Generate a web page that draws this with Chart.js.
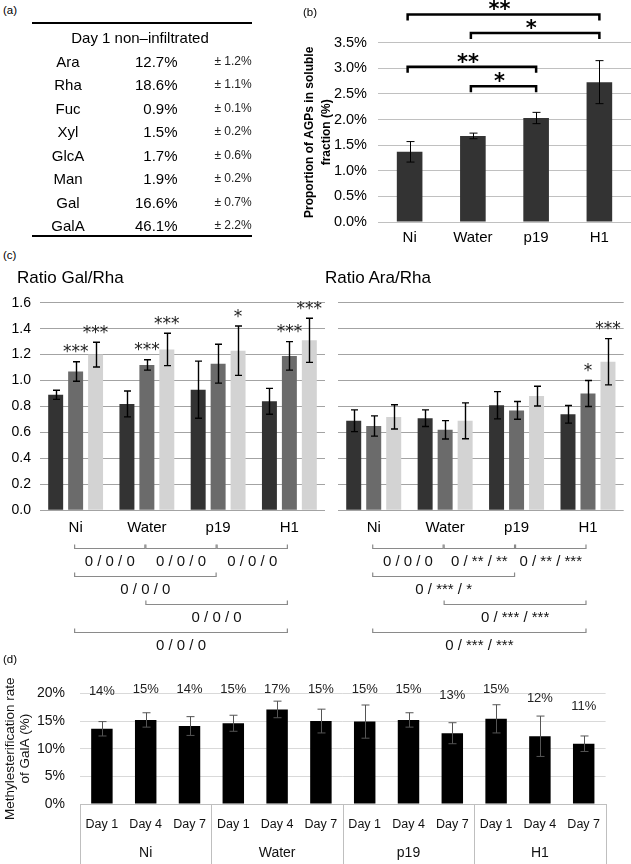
<!DOCTYPE html>
<html><head><meta charset="utf-8">
<script src="https://cdn.jsdelivr.net/npm/chart.js@4.4.1/dist/chart.umd.min.js"></script>
<style>
html,body{margin:0;padding:0;background:#fff}
body{width:631px;height:864px;position:relative;overflow:hidden;font-family:"Liberation Sans",Arial,sans-serif;color:#000}
.t{position:absolute;white-space:nowrap;line-height:1}
.rule{position:absolute;background:#000}
canvas{position:absolute}
</style></head><body>
<canvas id="chartB" width="331" height="250" style="left:300px;top:0px"></canvas>
<canvas id="chartGal" width="330" height="375" style="left:0px;top:285px"></canvas>
<canvas id="chartAra" width="301" height="375" style="left:330px;top:285px"></canvas>
<canvas id="chartD" width="631" height="194" style="left:0px;top:670px"></canvas>
<script>
// ---------- DATA ----------
// (a) table
const tableTitle = 'Day 1 non\u2013infiltrated';
const sugars = ['Ara','Rha','Fuc','Xyl','GlcA','Man','Gal','GalA'];
const sugarMean = [12.7,18.6,0.9,1.5,1.7,1.9,16.6,46.1];
const sugarSD = [1.2,1.1,0.1,0.2,0.6,0.2,0.7,2.2];

// (b) AGPs
const bCategories = ['Ni','Water','p19','H1'];
const bValues = [1.37,1.68,2.03,2.73];
const bErrors = [0.20,0.055,0.11,0.42];
const bAxisTitle = ['Proportion of AGPs in soluble','fraction (%)'];
const bComparisons = [
  {from:0,to:3,level:4.05,label:'**'},
  {from:1,to:3,level:3.69,label:'*'},
  {from:0,to:2,level:3.03,label:'**'},
  {from:1,to:2,level:2.65,label:'*'}
];

// (c) ratios
const cCategories = ['Ni','Water','p19','H1'];
const dayNames = ['Day 1','Day 4','Day 7'];
const galRhaDay1 = [0.89,0.82,0.93,0.84];
const galRhaDay1Err = [0.035,0.10,0.22,0.10];
const galRhaDay4 = [1.07,1.12,1.13,1.19];
const galRhaDay4Err = [0.075,0.04,0.15,0.11];
const galRhaDay7 = [1.20,1.24,1.23,1.31];
const galRhaDay7Err = [0.095,0.125,0.19,0.17];
const galRhaStars4 = ['***','***','','***'];
const galRhaStars7 = ['***','***','*','***'];
const araRhaDay1 = [0.69,0.71,0.81,0.74];
const araRhaDay1Err = [0.084,0.064,0.105,0.068];
const araRhaDay4 = [0.65,0.62,0.77,0.90];
const araRhaDay4Err = [0.078,0.071,0.068,0.10];
const araRhaDay7 = [0.72,0.69,0.88,1.145];
const araRhaDay7Err = [0.093,0.138,0.076,0.178];
const araRhaStars4 = ['','','','*'];
const araRhaStars7 = ['','','','***'];
const galRhaComparisons = [
  {from:0,to:1,row:0,label:'0 / 0 / 0'},
  {from:1,to:2,row:0,label:'0 / 0 / 0'},
  {from:2,to:3,row:0,label:'0 / 0 / 0'},
  {from:0,to:2,row:1,label:'0 / 0 / 0'},
  {from:1,to:3,row:2,label:'0 / 0 / 0'},
  {from:0,to:3,row:3,label:'0 / 0 / 0'}
];
const araRhaComparisons = [
  {from:0,to:1,row:0,label:'0 / 0 / 0'},
  {from:1,to:2,row:0,label:'0 / ** / **'},
  {from:2,to:3,row:0,label:'0 / ** / ***'},
  {from:0,to:2,row:1,label:'0 / *** / *'},
  {from:1,to:3,row:2,label:'0 / *** / ***'},
  {from:0,to:3,row:3,label:'0 / *** / ***'}
];

// (d) methylesterification
const dGroups = ['Ni','Water','p19','H1'];
const dDays = ['Day 1','Day 4','Day 7'];
const dValues = [13.6,15.2,14.1, 14.6,17.1,15.0, 14.9,15.2,12.8, 15.4,12.25,10.9];
const dErrors = [1.3,1.3,1.7, 1.45,1.5,2.15, 3.0,1.3,1.9, 2.55,3.65,1.4];
const dAxisTitle = ['Methylesterification rate','of GalA (%)'];

// ---------- HTML TEXT ----------
const FONT = '"Liberation Sans", Arial, sans-serif';
function put(text, x, y, align, font, color){
  const d = document.createElement('div');
  d.className = 't';
  d.textContent = text;
  d.style.font = font + ' ' + FONT;
  d.style.lineHeight = '1';
  d.style.left = x + 'px';
  d.style.top = y + 'px';
  const tx = align === 'center' ? '-50%' : (align === 'right' ? '-100%' : '0');
  d.style.transform = 'translate(' + tx + ',-50%)';
  if (color) d.style.color = color;
  document.body.appendChild(d);
}
function rule(x, y, w, h){
  const d = document.createElement('div');
  d.className = 'rule';
  d.style.left = x + 'px'; d.style.top = y + 'px';
  d.style.width = w + 'px'; d.style.height = h + 'px';
  document.body.appendChild(d);
}
put('(a)', 3, 11, 'left', '11.5px');
put('(b)', 303, 12.5, 'left', '11.5px');
put('(c)', 3, 256, 'left', '11.5px');
put('(d)', 3, 660, 'left', '11.5px');
put('Ratio Gal/Rha', 17, 277, 'left', '17px');
put('Ratio Ara/Rha', 325, 277, 'left', '17px');
rule(32, 22, 220, 2);
put(tableTitle, 140, 37, 'center', '15px');
sugars.forEach((s, i) => {
  const y = 60.7 + i * 23.48;
  put(s, 68, y, 'center', '15px');
  put(sugarMean[i].toFixed(1) + '%', 177.5, y, 'right', '15px');
  put('\u00b1 ' + sugarSD[i].toFixed(1) + '%', 251.7, y, 'right', '12px', '#222');
});
rule(32, 234.5, 220, 2);

// ---------- PLUGINS ----------
Chart.defaults.font.family = FONT;
Chart.defaults.color = '#000';

const errorBars = {
  id: 'errorBars',
  afterDatasetsDraw(chart, args, o){
    const ctx = chart.ctx, ys = chart.scales.y;
    chart.data.datasets.forEach((ds, di) => {
      if (!ds.errors) return;
      chart.getDatasetMeta(di).data.forEach((bar, i) => {
        const v = ds.data[i], e = ds.errors[i];
        const x = Math.round(bar.x) + 0.5;
        const y1 = ys.getPixelForValue(v + e), y2 = ys.getPixelForValue(v - e);
        ctx.save();
        ctx.strokeStyle = o.color; ctx.lineWidth = o.width;
        ctx.beginPath();
        ctx.moveTo(x, y1); ctx.lineTo(x, y2);
        ctx.moveTo(x - o.cap, y1); ctx.lineTo(x + o.cap, y1);
        ctx.moveTo(x - o.cap, y2); ctx.lineTo(x + o.cap, y2);
        ctx.stroke();
        ctx.restore();
      });
    });
  }
};

function starText(ctx, text, x, cy, size, color, weight){
  ctx.font = (weight || 'normal') + ' ' + size + 'px "DejaVu Sans"';
  ctx.fillStyle = color || '#000';
  ctx.textAlign = 'center';
  ctx.textBaseline = 'alphabetic';
  ctx.fillText(text, x, cy + size * 0.56);
}

const barStars = {
  id: 'barStars',
  afterDatasetsDraw(chart, args, o){
    const ctx = chart.ctx, ys = chart.scales.y;
    chart.data.datasets.forEach((ds, di) => {
      if (!ds.stars) return;
      chart.getDatasetMeta(di).data.forEach((bar, i) => {
        const s = ds.stars[i];
        if (!s) return;
        const top = ys.getPixelForValue(ds.data[i] + ds.errors[i]);
        ctx.save();
        starText(ctx, s, bar.x, top - o.lift, o.size, '#222');
        ctx.restore();
      });
    });
  }
};

const sigAbove = {
  id: 'sigAbove',
  afterDraw(chart, args, o){
    const ctx = chart.ctx, xs = chart.scales.x, ys = chart.scales.y;
    o.items.forEach(it => {
      const x1 = xs.getPixelForValue(it.from) - 2, x2 = xs.getPixelForValue(it.to);
      const y = ys.getPixelForValue(it.level);
      ctx.save();
      ctx.strokeStyle = '#000'; ctx.lineWidth = o.lineWidth;
      ctx.beginPath();
      ctx.moveTo(x1, y + o.tick); ctx.lineTo(x1, y); ctx.lineTo(x2, y); ctx.lineTo(x2, y + o.tick);
      ctx.stroke();
      starText(ctx, it.label, (x1 + x2) / 2 - 4, y - o.gap, o.size, '#000', 'bold');
      ctx.restore();
    });
  }
};

const sigBelow = {
  id: 'sigBelow',
  afterDraw(chart, args, o){
    const ctx = chart.ctx, xs = chart.scales.x, base = chart.chartArea.bottom;
    o.items.forEach(it => {
      const x1 = xs.getPixelForValue(it.from) - 1, x2 = xs.getPixelForValue(it.to) - 2;
      const y = Math.round(base + o.first + it.row * o.rowGap) + 0.5;
      ctx.save();
      ctx.strokeStyle = '#8a8a8a'; ctx.lineWidth = 1.2;
      ctx.beginPath();
      ctx.moveTo(x1, y - o.tick); ctx.lineTo(x1, y); ctx.lineTo(x2, y); ctx.lineTo(x2, y - o.tick);
      ctx.stroke();
      ctx.font = o.size + 'px ' + FONT;
      ctx.fillStyle = '#111';
      ctx.textAlign = 'center'; ctx.textBaseline = 'middle';
      ctx.fillText(it.label, (x1 + x2) / 2, y + o.labelGap);
      ctx.restore();
    });
  }
};

const groupAxis = {
  id: 'groupAxis',
  afterDraw(chart, args, o){
    const ctx = chart.ctx, xs = chart.scales.x, base = chart.chartArea.bottom;
    const half = (xs.getPixelForValue(1) - xs.getPixelForValue(0)) / 2;
    const n = o.groups.length, per = o.per;
    ctx.save();
    ctx.strokeStyle = o.lineColor; ctx.lineWidth = 1;
    ctx.beginPath();
    for (let g = 0; g <= n; g++){
      const x = Math.round(xs.getPixelForValue(g * per) - half) + 0.5;
      ctx.moveTo(x, base); ctx.lineTo(x, chart.height);
    }
    ctx.stroke();
    ctx.font = o.size + 'px ' + FONT;
    ctx.fillStyle = '#111';
    ctx.textAlign = 'center'; ctx.textBaseline = 'middle';
    o.groups.forEach((name, g) => {
      const xc = (xs.getPixelForValue(g * per) + xs.getPixelForValue(g * per + per - 1)) / 2;
      ctx.fillText(name, xc, base + o.offset);
    });
    ctx.restore();
  }
};

const valueLabels = {
  id: 'valueLabels',
  afterDatasetsDraw(chart, args, o){
    const ctx = chart.ctx, ys = chart.scales.y;
    const ds = chart.data.datasets[0];
    chart.getDatasetMeta(0).data.forEach((bar, i) => {
      const v = ds.data[i];
      const y = ys.getPixelForValue(Math.min(v + o.lift, o.ceiling));
      ctx.save();
      ctx.font = o.size + 'px ' + FONT;
      ctx.fillStyle = '#222';
      ctx.textAlign = 'center'; ctx.textBaseline = 'middle';
      ctx.fillText(Math.round(v) + '%', bar.x, y);
      ctx.restore();
    });
  }
};

// ---------- CHART (b) ----------
new Chart(document.getElementById('chartB'), {
  type: 'bar',
  data: { labels: bCategories, datasets: [{ data: bValues, errors: bErrors, backgroundColor: '#333333', barPercentage: 0.405, categoryPercentage: 1 }] },
  options: {
    responsive: false, animation: false,
    layout: { padding: { top: 42.7, left: 0, right: 0, bottom: 0 } },
    plugins: {
      legend: { display: false }, tooltip: { enabled: false },
      errorBars: { color: '#000', width: 1, cap: 4 },
      sigAbove: { items: bComparisons, lineWidth: 2.5, tick: 6, gap: 10, size: 21 }
    },
    scales: {
      x: { grid: { display: false, drawTicks: false }, border: { display: false },
           ticks: { font: { size: 15 }, padding: 7, color: '#000' },
           afterFit: s => { s.height = 28; } },
      y: { min: 0, max: 3.5,
           grid: { color: '#c0c0c0', drawTicks: false }, border: { display: false },
           ticks: { stepSize: 0.5, padding: 11, font: { size: 14.5 }, color: '#000', callback: v => Number(v).toFixed(1) + '%' },
           title: { display: true, text: bAxisTitle, color: '#000', font: { size: 12, weight: 'bold', lineHeight: 1.4 }, padding: { top: 1.6, bottom: 0 } },
           afterFit: s => { s.width = 78; } }
    }
  },
  plugins: [errorBars, sigAbove]
});

// ---------- CHARTS (c) ----------
const shade = ['#333333', '#6b6b6b', '#d3d3d3'];
function ratioChart(id, series, errs, stars, comps, showTicks, yWidth, padRight){
  return new Chart(document.getElementById(id), {
    type: 'bar',
    data: {
      labels: cCategories,
      datasets: series.map((s, k) => ({
        label: dayNames[k], data: s, errors: errs[k], stars: stars[k],
        backgroundColor: shade[k], barPercentage: 0.75, categoryPercentage: 0.84
      }))
    },
    options: {
      responsive: false, animation: false,
      layout: { padding: { top: 17.7, left: 0, right: padRight, bottom: 119.7 } },
      plugins: {
        legend: { display: false }, tooltip: { enabled: false },
        errorBars: { color: '#000', width: 1.4, cap: 3.5 },
        barStars: { lift: 14, size: 17 },
        sigBelow: { items: comps, first: 37.7, rowGap: 28, tick: 4, labelGap: 13, size: 15 }
      },
      scales: {
        x: { grid: { display: false, drawTicks: false }, border: { display: false },
             ticks: { font: { size: 15 }, padding: 8.7, color: '#000' },
             afterFit: s => { s.height = 30; } },
        y: { min: 0, max: 1.6,
             grid: { color: '#a3a3a3', drawTicks: false }, border: { display: false },
             ticks: { display: showTicks, stepSize: 0.2, padding: 9, font: { size: 14 }, color: '#000', callback: v => Number(v).toFixed(1) },
             afterFit: s => { s.width = yWidth; } }
      }
    },
    plugins: [errorBars, barStars, sigBelow]
  });
}
ratioChart('chartGal',
  [galRhaDay1, galRhaDay4, galRhaDay7],
  [galRhaDay1Err, galRhaDay4Err, galRhaDay7Err],
  [null, galRhaStars4, galRhaStars7],
  galRhaComparisons, true, 40, 5);
ratioChart('chartAra',
  [araRhaDay1, araRhaDay4, araRhaDay7],
  [araRhaDay1Err, araRhaDay4Err, araRhaDay7Err],
  [null, araRhaStars4, araRhaStars7],
  araRhaComparisons, false, 8, 7.3);

// ---------- CHART (d) ----------
const dLabels = [];
dGroups.forEach(() => dDays.forEach(d => dLabels.push(d)));
new Chart(document.getElementById('chartD'), {
  type: 'bar',
  data: { labels: dLabels, datasets: [{ data: dValues, errors: dErrors, backgroundColor: '#000000', barPercentage: 0.49, categoryPercentage: 1 }] },
  options: {
    responsive: false, animation: false,
    layout: { padding: { top: 20, left: 0, right: 25.4, bottom: 0 } },
    plugins: {
      legend: { display: false }, tooltip: { enabled: false },
      errorBars: { color: '#555', width: 1, cap: 4 },
      valueLabels: { lift: 6.8, ceiling: 20.8, size: 13 },
      groupAxis: { groups: dGroups, per: dDays.length, lineColor: '#bfbfbf', offset: 49, size: 14 }
    },
    scales: {
      x: { grid: { display: false, drawTicks: false }, border: { display: true, color: '#bfbfbf' },
           ticks: { font: { size: 12.5 }, padding: 13, color: '#111', autoSkip: false, maxRotation: 0 },
           afterFit: s => { s.height = 60; } },
      y: { min: 0, max: 20,
           grid: { color: '#d9d9d9', drawTicks: false }, border: { display: false },
           ticks: { stepSize: 5, padding: 15, font: { size: 14 }, color: '#111', callback: v => v + '%' },
           title: { display: true, text: dAxisTitle, color: '#111', font: { size: 13.5, lineHeight: 1.12 }, padding: { top: 2.5, bottom: 0 } },
           afterFit: s => { s.width = 80; } }
    }
  },
  plugins: [errorBars, valueLabels, groupAxis]
});
</script></body></html>
